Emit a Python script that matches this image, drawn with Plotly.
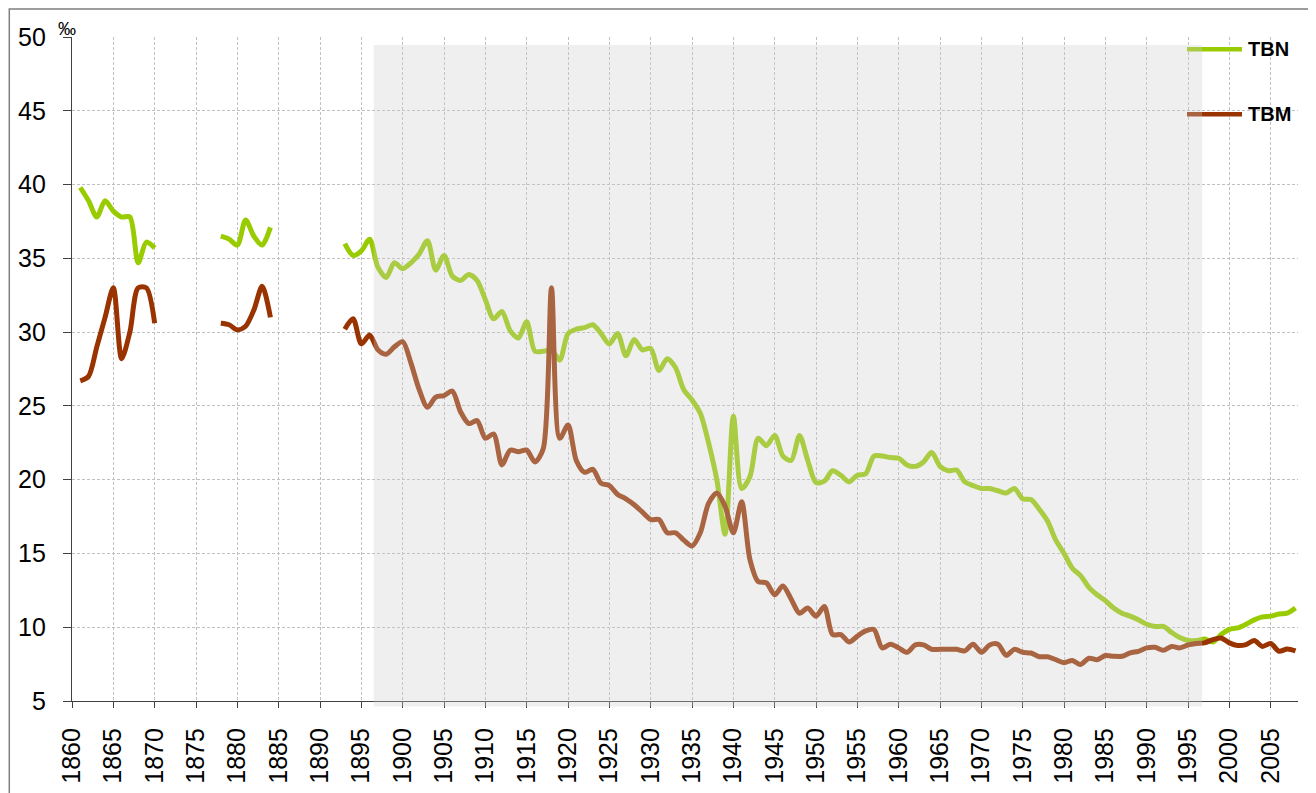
import plotly.graph_objects as go

years = list(range(1861, 2009))

tbn_early = [39.8, 38.9, 37.8, 38.9, 38.2, 37.8, 37.8, 34.7, 36.1, 35.7]          # 1861-1870
tbn_mid = [36.5, 36.3, 35.9, 37.6, 36.5, 35.9, 37.1]                             # 1878-1884
tbn_late = [36.0, 35.2, 35.5, 36.3, 34.4, 33.7, 34.7, 34.3, 34.7, 35.3,          # 1893-1902
            36.2, 34.2, 35.2, 33.8, 33.5, 33.9, 33.5, 32.2, 30.9, 31.4,          # 1903-1912
            30.1, 29.6, 30.7, 28.7, 28.7, 28.8, 28.1, 29.9, 30.2, 30.3,          # 1913-1922
            30.5, 29.9, 29.2, 29.9, 28.4, 29.5, 28.8, 28.9, 27.4, 28.2,          # 1923-1932
            27.6, 26.1, 25.4, 24.5, 22.5, 20.0, 16.3, 24.3, 19.4, 20.2,          # 1933-1942
            22.8, 22.3, 23.0, 21.6, 21.3, 23.0, 21.3, 19.8, 19.9, 20.6,          # 1943-1952
            20.3, 19.85, 20.3, 20.4, 21.6, 21.6, 21.5, 21.45, 21.0, 20.9,        # 1953-1962
            21.2, 21.85, 20.9, 20.6, 20.65, 19.85, 19.6, 19.4, 19.4, 19.25,      # 1963-1972
            19.1, 19.4, 18.7, 18.65, 18.0, 17.2, 15.9, 15.0, 14.0, 13.5,         # 1973-1982
            12.7, 12.2, 11.8, 11.3, 10.95, 10.75, 10.5, 10.2, 10.05, 10.05,      # 1983-1992
            9.65, 9.3, 9.1, 9.1, 9.2, 9.0, 9.5, 9.85, 9.95, 10.2,                # 1993-2002
            10.5, 10.7, 10.75, 10.9, 10.95, 11.3]                                # 2003-2008

tbm_early = [26.7, 27.0, 29.0, 31.0, 33.0, 28.2, 30.0, 33.0, 33.0, 30.6]
tbm_mid = [30.6, 30.5, 30.15, 30.4, 31.5, 33.1, 31.0]
tbm_late = [30.2, 30.9, 29.2, 29.8, 28.8, 28.5, 29.0, 29.35, 27.9, 26.1,
            24.9, 25.6, 25.7, 26.0, 24.6, 23.8, 24.0, 22.8, 23.1, 21.0,
            22.0, 21.9, 22.0, 21.2, 22.1, 33.0, 22.8, 23.7, 21.3, 20.5,
            20.7, 19.75, 19.6, 19.0, 18.7, 18.3, 17.8, 17.3, 17.3, 16.4,
            16.4, 15.9, 15.5, 16.4, 18.4, 19.1, 18.2, 16.4, 18.5, 14.6,
            13.1, 13.0, 12.2, 12.8, 11.9, 10.95, 11.3, 10.75, 11.4, 9.5,
            9.5, 9.0, 9.4, 9.75, 9.85, 8.6, 8.85, 8.6, 8.3, 8.8,
            8.8, 8.5, 8.5, 8.5, 8.5, 8.4, 8.85, 8.3, 8.8, 8.85,
            8.1, 8.5, 8.3, 8.25, 8.0, 8.0, 7.8, 7.6, 7.75, 7.47,
            7.9, 7.8, 8.08, 8.03, 8.03, 8.26, 8.37, 8.6, 8.64, 8.44,
            8.7, 8.6, 8.8, 8.9, 8.94, 9.16, 9.27, 8.94, 8.76, 8.82,
            9.1, 8.7, 8.9, 8.37, 8.53, 8.4]

gap1 = [None] * 7   # 1871-1877
gap2 = [None] * 8   # 1885-1892
tbn = tbn_early + gap1 + tbn_mid + gap2 + tbn_late
tbm = tbm_early + gap1 + tbm_mid + gap2 + tbm_late

x_ticks = list(range(1860, 2006, 5))
y_ticks = list(range(5, 51, 5))
shade_years = [1896.5, 1996.7]

GREEN = "#99cc00"
BROWN = "#993300"
FONT = "Liberation Sans, Arial, sans-serif"

# page offset of the figure div (default body margin)
OFF = 8
W, H = 1316 - OFF, 793 - OFF
L, R, T, B = 72 - OFF, 18, 37 - OFF, 91.5
PW, PH = W - L - R, H - T - B


def px(xp):  # page pixel x -> paper
    return (xp - 72) / PW


def py(yp):  # page pixel y -> paper
    return (701.5 - yp) / PH


fig = go.Figure()
fig.add_trace(go.Scatter(x=years, y=tbn, mode="lines", name="TBN",
                         line=dict(color=GREEN, width=5, shape="spline", smoothing=0.8),
                         connectgaps=False, showlegend=False))
fig.add_trace(go.Scatter(x=years, y=tbm, mode="lines", name="TBM",
                         line=dict(color=BROWN, width=5, shape="spline", smoothing=0.8),
                         connectgaps=False, showlegend=False))

shapes = []
# legend lines
for ypix, col in [(49.3, GREEN), (114.3, BROWN)]:
    shapes.append(dict(type="line", xref="paper", yref="paper",
                       x0=px(1187), x1=px(1242), y0=py(ypix), y1=py(ypix),
                       line=dict(color=col, width=4.5), layer="above"))
# shaded period (semi-transparent overlay)
shapes.append(dict(type="rect", xref="x", yref="paper",
                   x0=shade_years[0], x1=shade_years[1], y0=py(707), y1=py(45),
                   fillcolor="rgba(205,205,205,0.32)", line=dict(width=0), layer="above"))
# outer frame
shapes.append(dict(type="rect", xref="paper", yref="paper",
                   x0=px(9.3), x1=px(1313), y0=py(800), y1=py(9),
                   fillcolor="rgba(0,0,0,0)", line=dict(color="#7f7f7f", width=1.5),
                   layer="above"))

annotations = [
    dict(text="<b>TBN</b>", xref="paper", yref="paper", x=px(1246), y=py(49.3),
         xanchor="left", yanchor="middle", showarrow=False,
         font=dict(family=FONT, size=20, color="#000000")),
    dict(text="<b>TBM</b>", xref="paper", yref="paper", x=px(1246), y=py(114.3),
         xanchor="left", yanchor="middle", showarrow=False,
         font=dict(family=FONT, size=20, color="#000000")),
    dict(text="‰", xref="paper", yref="paper", x=px(66.5), y=py(28.5),
         xanchor="center", yanchor="middle", showarrow=False,
         font=dict(family=FONT, size=18, color="#000000")),
]

fig.update_layout(
    width=W, height=H,
    margin=dict(l=L, r=R, t=T, b=B, pad=0, autoexpand=False),
    paper_bgcolor="white", plot_bgcolor="white",
    font=dict(family=FONT, color="#000000"),
    shapes=shapes, annotations=annotations,
    showlegend=False,
)
fig.update_xaxes(range=[1860, 2008.3], tickmode="array", tickvals=x_ticks,
                 ticktext=[str(v) for v in x_ticks], tickangle=-90,
                 tickfont=dict(family=FONT, size=25, color="#000000"),
                 showline=True, linecolor="#404040", linewidth=1.3,
                 ticks="outside", ticklen=6, tickcolor="#404040", tickwidth=1.3,
                 ticklabelstandoff=10, automargin=False,
                 showgrid=True, gridcolor="#c0c0c0", gridwidth=1, griddash="3px,2px",
                 zeroline=False)
fig.update_yaxes(range=[5, 50], tickmode="array", tickvals=y_ticks,
                 ticktext=[str(v) for v in y_ticks],
                 tickfont=dict(family=FONT, size=25, color="#000000"),
                 showline=True, linecolor="#404040", linewidth=1.3,
                 ticks="outside", ticklen=8, tickcolor="#404040", tickwidth=1.3,
                 ticklabelstandoff=12, automargin=False,
                 showgrid=True, gridcolor="#c0c0c0", gridwidth=1, griddash="3px,2px",
                 zeroline=False)

fig.write_html("out.html")
